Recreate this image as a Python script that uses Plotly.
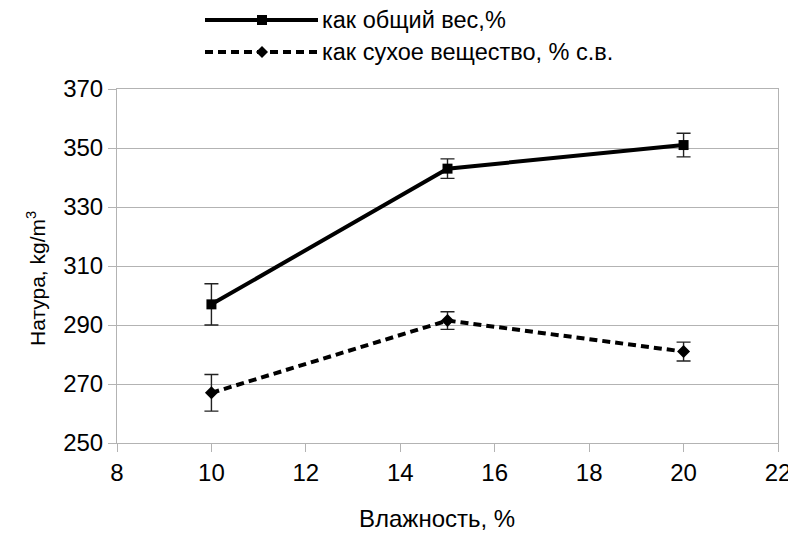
import plotly.graph_objects as go

moisture = [10, 15, 20]
total_weight = [297, 343, 351]
total_weight_err = [7, 3.3, 4]
dry_matter = [267, 291.5, 281]
dry_matter_err = [6.2, 3, 3.2]

name1 = "как общий вес,%"
name2 = "как сухое вещество, % с.в."
x_title = "Влажность, %"
y_title = "Натура, kg/m<sup>3</sup>"

# the page body has an 8px margin; figure drawn at (8, 8) in the window
OFF = 8
WIN_W, WIN_H = 796, 535
W, H = WIN_W - OFF, WIN_H - OFF
PL, PR, PT, PB = 117, 778, 89, 443   # plot area in window pixels
L, R, T, B = PL - OFF, (OFF + W) - PR, PT - OFF, (OFF + H) - PB
pw, ph = PR - PL, PB - PT

def px(x):  # window x -> paper
    return (x - PL) / pw

def py(y):  # window y -> paper
    return (PB - y) / ph

FONT = "Liberation Sans, Arial"

fig = go.Figure()
fig.add_trace(go.Scatter(
    x=moisture, y=total_weight, name=name1, mode="lines+markers",
    line=dict(color="black", width=4),
    marker=dict(symbol="square", size=10, color="black"),
    error_y=dict(type="data", array=total_weight_err, color="#222", thickness=1.4, width=7),
    showlegend=False,
))
fig.add_trace(go.Scatter(
    x=moisture, y=dry_matter, name=name2, mode="lines+markers",
    line=dict(color="black", width=4, dash="8px,5px"),
    marker=dict(symbol="diamond", size=10, color="black"),
    error_y=dict(type="data", array=dry_matter_err, color="#222", thickness=1.4, width=7),
    showlegend=False,
))

shapes = []
annotations = []
rows = [(20, name1, "solid", "square"), (52, name2, "8px,5px", "diamond")]
for ypix, name, dash, sym in rows:
    shapes.append(dict(type="line", xref="paper", yref="paper",
                       x0=px(205), x1=px(318), y0=py(ypix), y1=py(ypix),
                       line=dict(color="black", width=4, dash=dash)))
    if sym == "square":
        shapes.append(dict(type="rect", xref="paper", yref="paper",
                           xsizemode="pixel", ysizemode="pixel",
                           xanchor=px(262), yanchor=py(ypix),
                           x0=-5, x1=5, y0=-5, y1=5,
                           fillcolor="black", line=dict(width=0)))
    else:
        shapes.append(dict(type="path", xref="paper", yref="paper",
                           xsizemode="pixel", ysizemode="pixel",
                           xanchor=px(262), yanchor=py(ypix),
                           path="M -6 0 L 0 6 L 6 0 L 0 -6 Z",
                           fillcolor="black", line=dict(width=0)))
    annotations.append(dict(text=name, xref="paper", yref="paper",
                            x=px(320), y=py(ypix), xanchor="left", yanchor="middle",
                            showarrow=False,
                            font=dict(family=FONT, size=23.5, color="black")))

# axis titles
annotations.append(dict(text=x_title, xref="paper", yref="paper",
                        x=px(437), y=py(534), xanchor="center", yanchor="bottom",
                        showarrow=False, font=dict(family=FONT, size=24, color="black")))
annotations.append(dict(text=y_title, xref="paper", yref="paper", textangle=-90,
                        x=px(36), y=py(279), xanchor="center", yanchor="middle",
                        showarrow=False, font=dict(family=FONT, size=21, color="black")))

fig.update_layout(
    width=W, height=H,
    margin=dict(l=L, r=R, t=T, b=B, autoexpand=False),
    paper_bgcolor="white", plot_bgcolor="white",
    font=dict(family=FONT, size=24, color="black"),
    shapes=shapes, annotations=annotations,
    xaxis=dict(range=[8, 22], dtick=2, tick0=8, showgrid=False, zeroline=False,
               automargin=False,
               showline=True, linecolor="#b3b3b3", linewidth=1, mirror=True,
               ticks="outside", ticklen=8, tickcolor="#b3b3b3",
               tickfont=dict(size=24)),
    yaxis=dict(range=[250, 370], dtick=20, tick0=250, showgrid=True, gridcolor="#b3b3b3",
               zeroline=False, automargin=False,
               showline=True, linecolor="#b3b3b3", linewidth=1, mirror=True,
               ticks="outside", ticklen=8, tickcolor="#b3b3b3",
               tickfont=dict(size=24)),
)

fig.write_html("out.html")
